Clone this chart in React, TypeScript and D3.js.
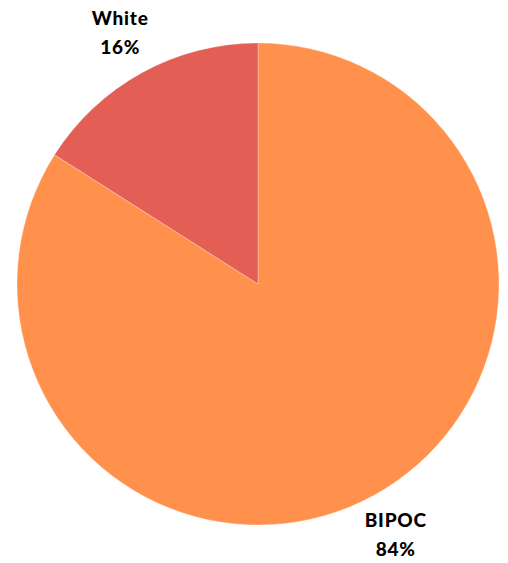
import React from "react";
import * as d3 from "d3";

const categories = ["BIPOC", "White"];
const values = [84, 16];
const percentLabels = ["84%", "16%"];
const colors = ["#FF914D", "#E35F56"];

export default function App() {
  const width = 508;
  const height = 563;
  const cx = 258;
  const cy = 284;
  const radius = 241;
  const labelR = 286;

  const data = categories.map((c, i) => ({ c, v: values[i], p: percentLabels[i], col: colors[i] }));
  const pie = d3.pie<any>().sort(null).value((d) => d.v);
  const arcs = pie(data);
  const arc = d3.arc<any>().innerRadius(0).outerRadius(radius);
  const labelArc = d3.arc<any>().innerRadius(labelR).outerRadius(labelR);

  return (
    <svg
      width={width}
      height={height}
      style={{ position: "absolute", left: 0, top: 0, background: "#fff" }}
    >
      <g transform={`translate(${cx},${cy})`}>
        {arcs.map((a, i) => (
          <path key={i} d={arc(a) as string} fill={a.data.col} stroke="#ffffff" strokeOpacity={0.35} strokeWidth={0.8} />
        ))}
        {arcs.map((a, i) => {
          const [x, y] = labelArc.centroid(a);
          return (
            <text
              key={"l" + i}
              x={x}
              y={y}
              textAnchor="middle"
              fontFamily="Lato, sans-serif"
              fontWeight={900}
              fontSize={19}
              letterSpacing={0.8}
              fill="#000"
            >
              <tspan x={x} dy={-8}>{a.data.c}</tspan>
              <tspan x={x} dy={29}>{a.data.p}</tspan>
            </text>
          );
        })}
      </g>
    </svg>
  );
}
